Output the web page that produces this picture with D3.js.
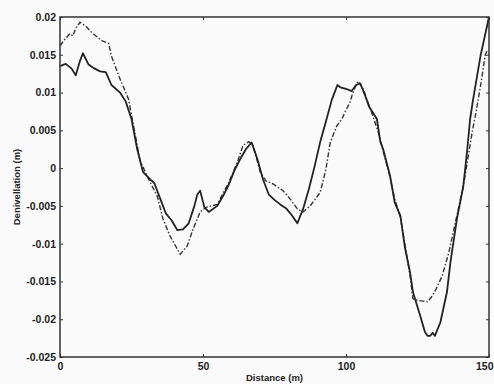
<!DOCTYPE html>
<html><head><meta charset="utf-8">
<script src="https://cdn.jsdelivr.net/npm/d3@7"></script>
<style>
html,body{margin:0;padding:0;background:#fbfbfb;}
svg{display:block;}
text{font-family:"Liberation Sans",Arial,sans-serif;fill:#222;}
</style></head>
<body>
<svg id="c" width="494" height="384"></svg>
<script>
// Solid series (distance m, denivellation m)
const solidDist = [0,2,4,5.5,7,8,10,12,14,16,18,21,23,25,27,29,31,33,35,37,39,41,43,45,47,48,49,50.5,52,55,57,59,61,63,65,67,69,71,73,75,77,79,81,83,85,87,89,91,93,95,97,98,100,102,103.5,105,106.5,108,110.8,112,113,115.4,117,119,120.6,122.4,123.4,126,127.6,128.5,129.4,130.3,131.1,133,135.3,136.5,138.8,141,142.3,143.4,144.4,147,150];
const solidVal  = [0.0135,0.0138,0.0132,0.0123,0.0142,0.0152,0.0137,0.0132,0.0128,0.0127,0.011,0.01,0.0088,0.0065,0.0025,-0.0005,-0.0013,-0.002,-0.004,-0.006,-0.0069,-0.0082,-0.0081,-0.0073,-0.005,-0.0035,-0.003,-0.0052,-0.0058,-0.005,-0.0037,-0.0022,-0.0003,0.0012,0.0025,0.0034,0.0012,-0.0015,-0.0035,-0.0042,-0.0048,-0.0053,-0.0062,-0.0073,-0.0054,-0.0028,0.0002,0.0035,0.0062,0.009,0.011,0.0107,0.0105,0.0102,0.011,0.0112,0.0098,0.0082,0.0065,0.0035,0.0025,-0.001,-0.0045,-0.0063,-0.0105,-0.0138,-0.0164,-0.0196,-0.0217,-0.0222,-0.0222,-0.0218,-0.0222,-0.0204,-0.0164,-0.0125,-0.0067,-0.0024,0.0021,0.0065,0.009,0.0148,0.02];
// Dash-dot series
const dashDist = [0,2,3.5,4.5,5.5,7,9,11,13.5,15,17,18,21,24,25.5,28,31,34,36,38.5,41,42,44.5,46.5,49,51,55,56.5,59,62,64,66,67.5,70,72,74.5,78,80.5,83,85,87.5,91,93,94.5,96.8,98.6,99.6,101.4,102.4,104.2,106,107.3,109.4,111.5,113,115.4,117,119,121,122.5,123.4,125,127,128.5,130,131.5,133.6,136,137.5,139.5,141,142.5,144,145.5,147,148.7,149.6];
const dashVal  = [0.0162,0.0172,0.0178,0.0175,0.0185,0.0193,0.0188,0.018,0.0172,0.0168,0.0165,0.0148,0.0118,0.0091,0.006,0.001,-0.0015,-0.0037,-0.0067,-0.009,-0.0107,-0.0114,-0.0103,-0.0081,-0.0058,-0.0052,-0.0048,-0.0037,-0.0019,0.0008,0.003,0.0035,0.003,-0.0005,-0.0017,-0.0021,-0.003,-0.0041,-0.0054,-0.0058,-0.005,-0.0032,-0.0001,0.0034,0.0056,0.0065,0.0074,0.0087,0.01,0.0115,0.0105,0.0091,0.0069,0.0045,0.0022,-0.0012,-0.004,-0.0065,-0.011,-0.0145,-0.0173,-0.0175,-0.0176,-0.0177,-0.017,-0.016,-0.0143,-0.0111,-0.0085,-0.005,-0.0025,0.001,0.0045,0.0075,0.0108,0.015,0.0157];
// Ticks
const xTicks = [0,50,100,150];
const xTickLabels = ["0","50","100","150"];
const yTicks = [0.02,0.015,0.01,0.005,0,-0.005,-0.01,-0.015,-0.02,-0.025];
const yTickLabels = ["0.02","0.015","0.01","0.005","0","-0.005","-0.01","-0.015","-0.02","-0.025"];
const xLabel = "Distance (m)";
const yLabel = "Denivellation (m)";

const L=60,R=489,T=17,B=357;
const svg=d3.select("#c");
const x=d3.scaleLinear().domain([0,150]).range([L,R]);
const y=d3.scaleLinear().domain([-0.025,0.02]).range([B,T]);

const line=d3.line().x(d=>x(d[0])).y(d=>y(d[1]));
const solid=solidDist.map((d,i)=>[d,solidVal[i]]);
const dash=dashDist.map((d,i)=>[d,dashVal[i]]);

const plot=svg.append("g");
plot.append("path").datum(dash).attr("d",line).attr("fill","none")
  .attr("stroke","#333").attr("stroke-width",1.4).attr("stroke-dasharray","5,2,1.5,2");
plot.append("path").datum(solid).attr("d",line).attr("fill","none")
  .attr("stroke","#222").attr("stroke-width",1.8).attr("stroke-linejoin","round");

const fmtX=(d,i)=>xTickLabels[i];
const fmtY=(d,i)=>yTickLabels[i];
const style=g=>{g.select(".domain").remove();g.selectAll("line").attr("stroke","#333").attr("stroke-width",1);
  g.selectAll("text").style("font-size","10.5px").style("font-weight","bold")
   .style("font-family","'Liberation Sans',Arial,sans-serif").attr("fill","#2a2a2a");};

const gx=svg.append("g").attr("transform",`translate(0,${B})`)
  .call(d3.axisBottom(x).tickValues(xTicks).tickFormat(fmtX).tickSizeInner(-3).tickSizeOuter(0).tickPadding(6)).call(style);
// keep the last label inside the window
gx.selectAll(".tick text").filter((d,i)=>i===xTicks.length-1).attr("text-anchor","end").attr("x",493-R);
svg.append("g").attr("transform",`translate(0,${T})`)
  .call(d3.axisTop(x).tickValues(xTicks).tickFormat("").tickSizeInner(-3).tickSizeOuter(0)).call(style);
svg.append("g").attr("transform",`translate(${L},0)`)
  .call(d3.axisLeft(y).tickValues(yTicks).tickFormat(fmtY).tickSizeInner(-3).tickSizeOuter(0).tickPadding(4)).call(style);
svg.append("g").attr("transform",`translate(${R},0)`)
  .call(d3.axisRight(y).tickValues(yTicks).tickFormat("").tickSizeInner(-3).tickSizeOuter(0)).call(style);

svg.append("rect").attr("x",L).attr("y",T).attr("width",R-L).attr("height",B-T)
  .attr("fill","none").attr("stroke","#333").attr("stroke-width",1.5);

svg.append("text").attr("x",(L+R)/2).attr("y",381).attr("text-anchor","middle")
  .style("font-size","9.5px").style("font-weight","bold").text(xLabel);
svg.append("text").attr("transform",`translate(20,${(T+B)/2}) rotate(-90)`).attr("text-anchor","middle")
  .style("font-size","9.5px").style("font-weight","bold").text(yLabel);
</script>
</body></html>
